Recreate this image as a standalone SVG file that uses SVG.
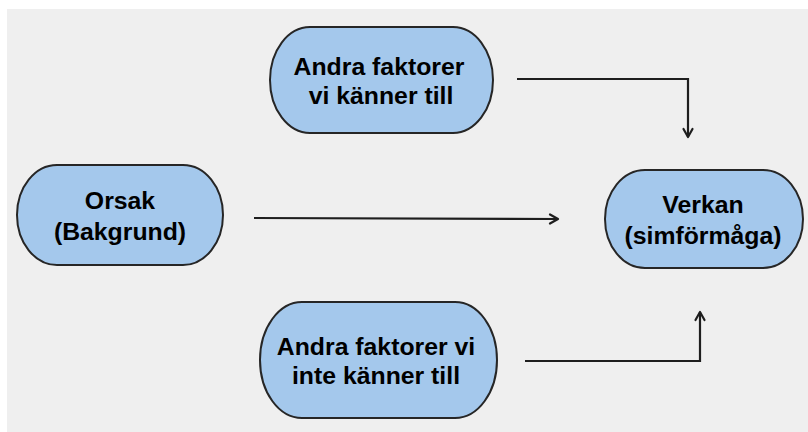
<svg xmlns="http://www.w3.org/2000/svg" width="808" height="432" viewBox="0 0 808 432">
  <defs>
    <marker id="arrow" viewBox="0 0 12 12" refX="10" refY="6" markerWidth="12" markerHeight="12" markerUnits="userSpaceOnUse" orient="auto">
      <path d="M2,1.5 L10,6 L2,10.5" fill="none" stroke="#1e1e1e" stroke-width="2.2" stroke-linecap="round" stroke-linejoin="round"/>
    </marker>
    <style>
      .node { fill: #a4c8ec; stroke: #262626; stroke-width: 2; }
      .label { font-family: "Liberation Sans", Arial, sans-serif; font-weight: bold; font-size: 24.8px; fill: #000; text-anchor: middle; }
      .conn { fill: none; stroke: #1e1e1e; stroke-width: 2.2; marker-end: url(#arrow); }
    </style>
  </defs>

  <rect x="0" y="0" width="808" height="432" fill="#ffffff"/>
  <rect x="7" y="9" width="801" height="423" fill="#efefef"/>

  <g id="known-factors">
    <rect class="node" x="270" y="27" width="223" height="106" rx="40" ry="53"/>
    <text class="label" x="379" y="75">Andra faktorer</text>
    <text class="label" x="381" y="104">vi känner till</text>
  </g>

  <g id="cause">
    <rect class="node" x="17" y="165" width="206" height="100" rx="40" ry="50"/>
    <text class="label" x="120" y="209">Orsak</text>
    <text class="label" x="120" y="240">(Bakgrund)</text>
  </g>

  <g id="effect">
    <rect class="node" x="605" y="170" width="198" height="98" rx="40" ry="49"/>
    <text class="label" x="703" y="213">Verkan</text>
    <text class="label" x="703" y="244">(simförmåga)</text>
  </g>

  <g id="unknown-factors">
    <rect class="node" x="260" y="302" width="237" height="116" rx="42" ry="58"/>
    <text class="label" x="376" y="355">Andra faktorer vi</text>
    <text class="label" x="376" y="384">inte känner till</text>
  </g>

  <g id="connectors">
    <path class="conn" d="M517,79 L688,79 L688,137"/>
    <path class="conn" d="M254,218 L558,219"/>
    <path class="conn" d="M525,361 L700,361 L700,312"/>
  </g>
</svg>
